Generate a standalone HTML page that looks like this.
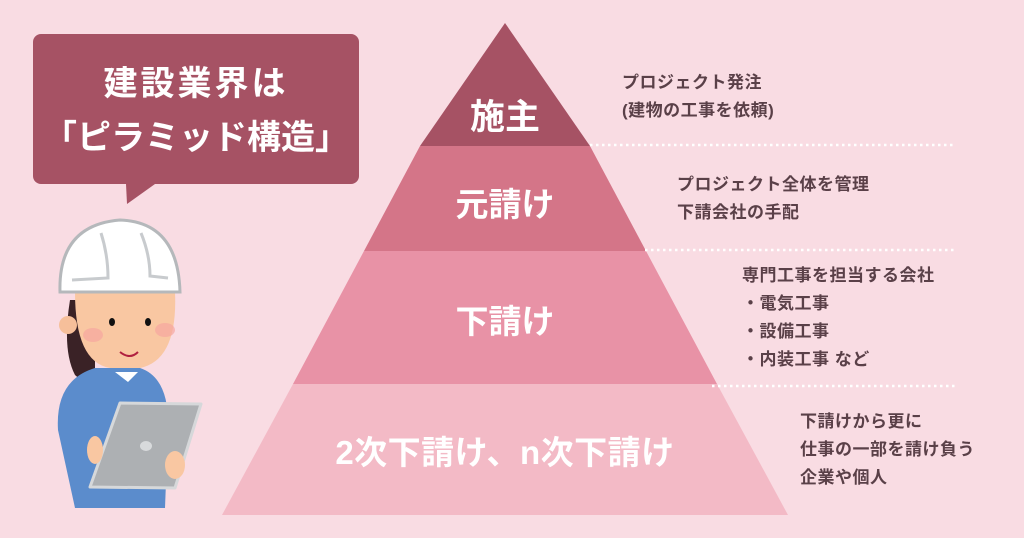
<!DOCTYPE html>
<html><head><meta charset="utf-8"><style>
html,body{margin:0;padding:0}
body{width:1024px;height:538px;background:#f9dce3;position:relative;overflow:hidden;font-family:"Liberation Sans","Noto Sans CJK JP",sans-serif}
.t{position:absolute;color:#5a4048;font-size:17px;letter-spacing:0.5px;font-weight:bold;line-height:28px;white-space:nowrap}
.w{position:absolute;color:#fff;font-weight:bold;white-space:nowrap;text-align:center}
</style></head><body>
<svg width="1024" height="538" style="position:absolute;left:0;top:0">
<polygon points="505,23 590,146 420,146" fill="#a65264"/>
<polygon points="420,146 590,146 646,251 364,251" fill="#d47588"/>
<polygon points="364,251 646,251 717,384 293,384" fill="#e892a6"/>
<polygon points="293,384 717,384 788,515 222,515" fill="#f3bac6"/>
<g stroke="#fff" stroke-width="2.5" stroke-dasharray="2.5,3.5">
<line x1="590" y1="145" x2="955" y2="145"/>
<line x1="645" y1="250" x2="955" y2="250"/>
<line x1="712" y1="386" x2="955" y2="386"/>
</g>
<rect x="33" y="34" width="326" height="150" rx="8" fill="#a65264"/>
<polygon points="126,184 155,184 127,204" fill="#a65264"/>
<path d="M70,300 Q62,350 75,375 Q85,385 95,375 L95,300Z" fill="#3a2226"/>
<path d="M58,430 Q55,380 95,368 L140,368 Q170,378 168,430 L165,508 L75,508 Z" fill="#5b8ccc"/>
<polygon points="115,372 128,382 138,372" fill="#fff"/>
<circle cx="68" cy="325" r="9" fill="#f6bf9a"/>
<path d="M75,292 L175,292 Q178,360 140,368 L110,368 Q75,362 75,292Z" fill="#f9c7a2"/>
<ellipse cx="93" cy="335" rx="10" ry="7" fill="#f7a6a0" opacity=".7"/>
<ellipse cx="165" cy="330" rx="10" ry="7" fill="#f7a6a0" opacity=".7"/>
<ellipse cx="112" cy="322" rx="3" ry="4" fill="#111"/>
<ellipse cx="148" cy="322" rx="3" ry="4" fill="#111"/>
<path d="M120,352 Q130,360 138,352" stroke="#b02040" stroke-width="2" fill="none"/>
<path d="M60,292 Q58,225 120,220 Q178,222 180,292 Z" fill="#fff" stroke="#b5b8bb" stroke-width="3"/>
<path d="M101,233 Q108,255 108,278 L72,280 M141,233 Q150,255 150,276 L168,278" stroke="#c8cbce" stroke-width="3" fill="none"/>
<polygon points="120,403 201,404 175,488 90,487" fill="#adb0b3" stroke="#d6d8da" stroke-width="3" stroke-linejoin="round"/>
<ellipse cx="146" cy="446" rx="6" ry="5" fill="#d8dadc"/>
<ellipse cx="175" cy="465" rx="10" ry="14" fill="#f9c7a2"/>
<ellipse cx="95" cy="450" rx="8" ry="14" fill="#f9c7a2"/>
</svg>
<div class="w" style="left:33px;top:57px;width:326px;font-size:34px;line-height:54px"><span style="letter-spacing:3px">建設業界は</span><br>「ピラミッド構造」</div>
<div class="w" style="left:405px;top:97px;width:200px;font-size:35px;line-height:42px">施主</div>
<div class="w" style="left:405px;top:184px;width:200px;font-size:33px;line-height:42px">元請け</div>
<div class="w" style="left:405px;top:301px;width:200px;font-size:33px;line-height:42px">下請け</div>
<div class="w" style="left:235px;top:432px;width:540px;font-size:33px;letter-spacing:0.5px;line-height:42px">2次下請け、n次下請け</div>
<div class="t" style="left:622px;top:69px">プロジェクト発注<br>(建物の工事を依頼)</div>
<div class="t" style="left:677px;top:171px">プロジェクト全体を管理<br>下請会社の手配</div>
<div class="t" style="left:742px;top:262px">専門工事を担当する会社<br>・電気工事<br>・設備工事<br>・内装工事 など</div>
<div class="t" style="left:800px;top:408px">下請けから更に<br>仕事の一部を請け負う<br>企業や個人</div>
</body></html>
